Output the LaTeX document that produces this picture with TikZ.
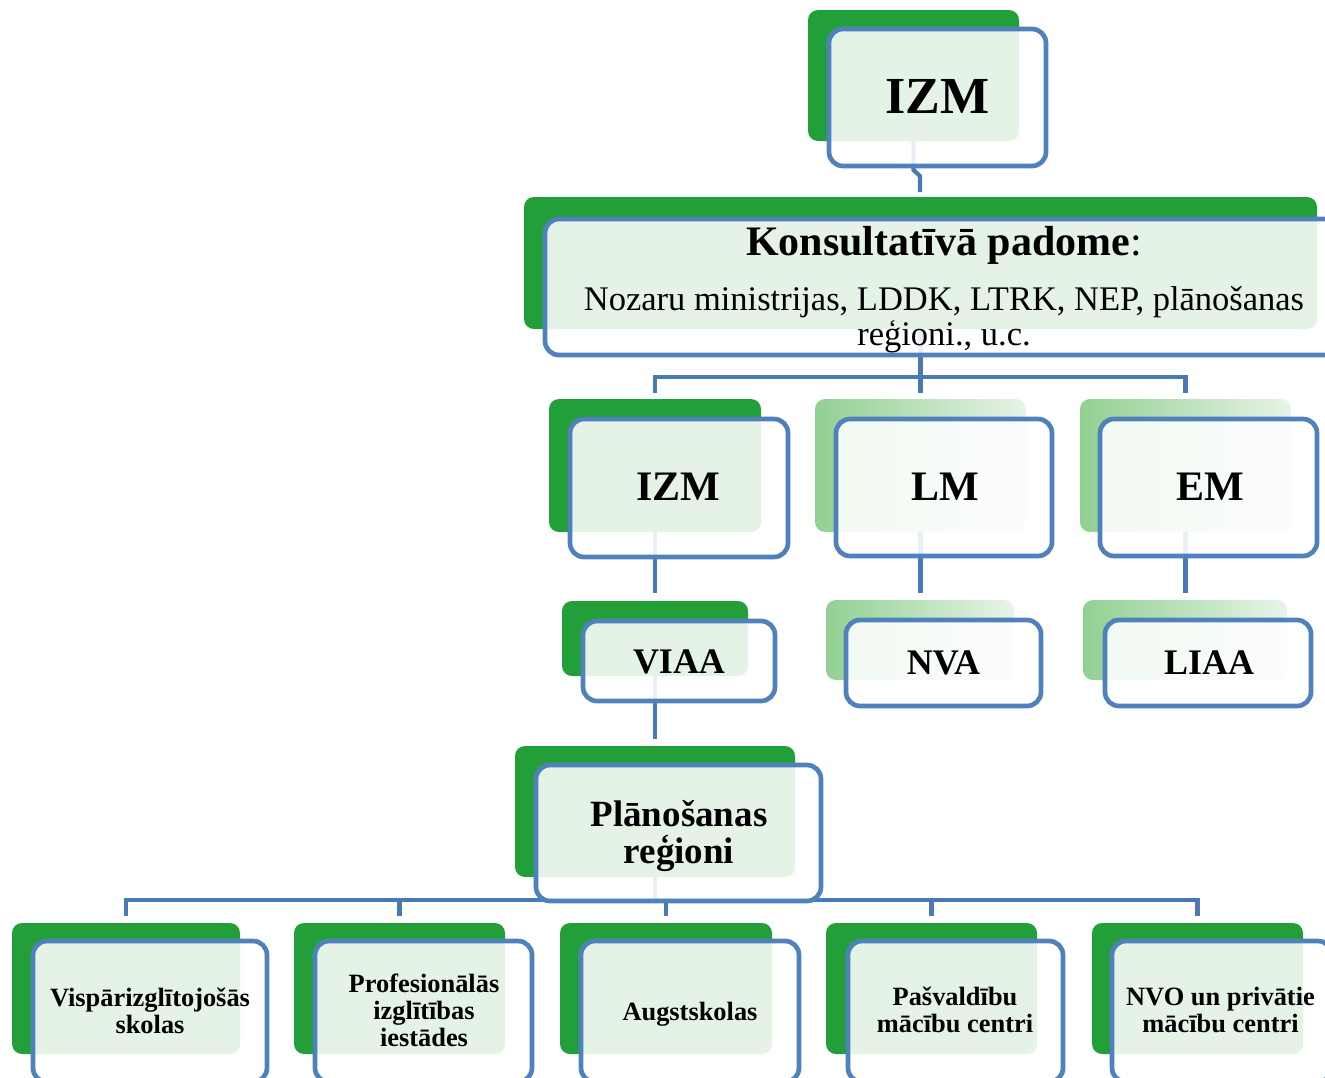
\documentclass[tikz,border=0pt]{standalone}
\usepackage{fontspec}
\setmainfont{Liberation Serif}
\usetikzlibrary{calc}
\definecolor{gr}{RGB}{34,159,56}
\definecolor{bl}{RGB}{79,129,189}
\definecolor{cn}{RGB}{74,122,182}
\definecolor{lgA}{RGB}{146,208,146}
\definecolor{lgB}{RGB}{232,244,232}
\pgfdeclarelayer{connlayer}
\pgfdeclarelayer{backlayer}
\pgfsetlayers{connlayer,backlayer,main}
\tikzset{
  backbox/.style={rectangle, rounded corners=10pt, fill=gr, draw=none, inner sep=0pt, outer sep=0pt},
  fadebox/.style={rectangle, rounded corners=10pt, left color=lgA, right color=lgB, draw=none, inner sep=0pt, outer sep=0pt},
  frontbox/.style={rectangle, rounded corners=14pt, draw=bl, line width=4.7pt, fill=white, fill opacity=0.88, inner sep=0pt, outer sep=0pt},
  conn/.style={draw=cn, line width=4.2pt},
  lbl/.style={anchor=base, inner sep=0pt, outer sep=0pt, text=black},
}
\newcommand\mybox[6]{%
  \pgfmathsetmacro\myw{#5-#3}\pgfmathsetmacro\myh{#6-#4}%
  \node[#2, minimum width=\myw pt, minimum height=\myh pt] (#1) at ({(#3+#5)/2},{(#4+#6)/2}) {};}
\begin{document}
\begin{tikzpicture}[x=1pt,y=-1pt]
\useasboundingbox (0,0) rectangle (1325,1077);
% back (green) shapes
\begin{pgfonlayer}{backlayer}
\mybox{g-top}{backbox}{808}{10}{1019}{141}
\mybox{g-kp}{backbox}{524}{197}{1317}{329}
\mybox{g-izm}{backbox}{549}{399}{761}{532}
\mybox{g-lm}{fadebox}{815}{399}{1026}{532}
\mybox{g-em}{fadebox}{1080}{399}{1291}{532}
\mybox{g-viaa}{backbox}{562}{601}{748}{676}
\mybox{g-nva}{fadebox}{826}{600}{1014}{680}
\mybox{g-liaa}{fadebox}{1083}{600}{1287}{680}
\mybox{g-pr}{backbox}{515}{746}{795}{877}
\mybox{g-b1}{backbox}{12}{923}{240}{1054}
\mybox{g-b2}{backbox}{294}{923}{505}{1054}
\mybox{g-b3}{backbox}{560}{923}{772}{1054}
\mybox{g-b4}{backbox}{826}{923}{1037}{1054}
\mybox{g-b5}{backbox}{1092}{923}{1303}{1054}
\end{pgfonlayer}
% front (blue outlined) boxes
\mybox{b-top}{frontbox}{829}{29}{1046}{166}
\mybox{b-kp}{frontbox}{545}{219}{1340}{355}
\mybox{b-izm}{frontbox}{570}{419}{788}{557}
\mybox{b-lm}{frontbox}{836}{419}{1052}{556}
\mybox{b-em}{frontbox}{1100}{419}{1317}{556}
\mybox{b-viaa}{frontbox}{583}{621}{775}{701}
\mybox{b-nva}{frontbox}{846}{620}{1041}{706}
\mybox{b-liaa}{frontbox}{1105}{620}{1311}{706}
\mybox{b-pr}{frontbox}{536}{765}{821}{901}
\mybox{b-b1}{frontbox}{33}{941}{267}{1082}
\mybox{b-b2}{frontbox}{315}{941}{532}{1082}
\mybox{b-b3}{frontbox}{581}{941}{799}{1082}
\mybox{b-b4}{frontbox}{848}{941}{1063}{1082}
\mybox{b-b5}{frontbox}{1112}{941}{1332}{1082}
% texts
\node[lbl, font=\fontsize{52}{60}\selectfont\bfseries] (t-top) at (937.5,113) {IZM};
\node[lbl, font=\fontsize{42}{48}\selectfont] (t-kp1) at (944,255) {\textbf{Konsultatīvā padome}:};
\node[lbl, font=\fontsize{34.5}{40}\selectfont] (t-kp2) at (944,310) {Nozaru ministrijas, LDDK, LTRK, NEP, plānošanas};
\node[lbl, font=\fontsize{34.5}{40}\selectfont] (t-kp3) at (944,345) {reģioni., u.c.};
\node[lbl, font=\fontsize{42}{48}\selectfont\bfseries] (t-izm) at (678.5,500) {IZM};
\node[lbl, font=\fontsize{42}{48}\selectfont\bfseries] (t-lm) at (945,500) {LM};
\node[lbl, font=\fontsize{42}{48}\selectfont\bfseries] (t-em) at (1210.5,500) {EM};
\node[lbl, font=\fontsize{36}{40}\selectfont\bfseries] (t-viaa) at (679,673) {VIAA};
\node[lbl, font=\fontsize{36}{40}\selectfont\bfseries] (t-nva) at (943.5,674) {NVA};
\node[lbl, font=\fontsize{36}{40}\selectfont\bfseries] (t-liaa) at (1209,674) {LIAA};
\node[lbl, font=\fontsize{37}{40}\selectfont\bfseries] (t-pr1) at (679,826) {Plānošanas};
\node[lbl, font=\fontsize{37}{40}\selectfont\bfseries] (t-pr2) at (679,863) {reģioni};
\tikzset{small/.style={lbl, font=\fontsize{26.4}{27}\selectfont\bfseries}}
\node[small] (t-b1a) at (150,1006) {Vispārizglītojošās};
\node[small] (t-b1b) at (150,1033) {skolas};
\node[small] (t-b2a) at (424,992) {Profesionālās};
\node[small] (t-b2b) at (424,1019) {izglītības};
\node[small] (t-b2c) at (424,1046) {iestādes};
\node[small] (t-b3) at (690,1020) {Augstskolas};
\node[small] (t-b4a) at (955,1005) {Pašvaldību};
\node[small] (t-b4b) at (955,1032) {mācību centri};
\node[small] (t-b5a) at (1220.5,1005) {NVO un privātie};
\node[small] (t-b5b) at (1220.5,1032) {mācību centri};
% connectors (behind everything)
\begin{pgfonlayer}{connlayer}
\draw[conn] (g-top.south) -- ++(0,29) -- ++(6.5,6) -- ++(0,16);
\coordinate (busA) at (0,377);
\draw[conn] (g-kp.south) -- (g-kp.south |- busA);
\draw[conn] ([yshift=6pt]g-izm.north) |- (busA -| g-lm.north) -| ([yshift=6pt]g-em.north);
\draw[conn] (busA -| g-lm.north) -- ([yshift=6pt]g-lm.north);
\draw[conn] (g-izm.south) -- ([yshift=8pt]g-izm.south |- g-viaa.north);
\draw[conn] (g-lm.south) -- ([yshift=7pt]g-lm.south |- g-nva.north);
\draw[conn] (g-em.south) -- ([yshift=7pt]g-em.south |- g-liaa.north);
\draw[conn] (g-viaa.south) -- ([yshift=7pt]g-viaa.south |- g-pr.north);
\coordinate (busB) at (0,900);
\draw[conn] (g-pr.south) -- (g-pr.south |- busB);
\draw[conn] ([yshift=7pt]g-b1.north) |- (busB -| g-b5.north) -- ([yshift=7pt]g-b5.north);
\draw[conn] (busB -| g-b2.north) -- ([yshift=7pt]g-b2.north);
\draw[conn] (busB -| g-b3.north) -- ([yshift=7pt]g-b3.north);
\draw[conn] (busB -| g-b4.north) -- ([yshift=7pt]g-b4.north);
\end{pgfonlayer}
\end{tikzpicture}
\end{document}
